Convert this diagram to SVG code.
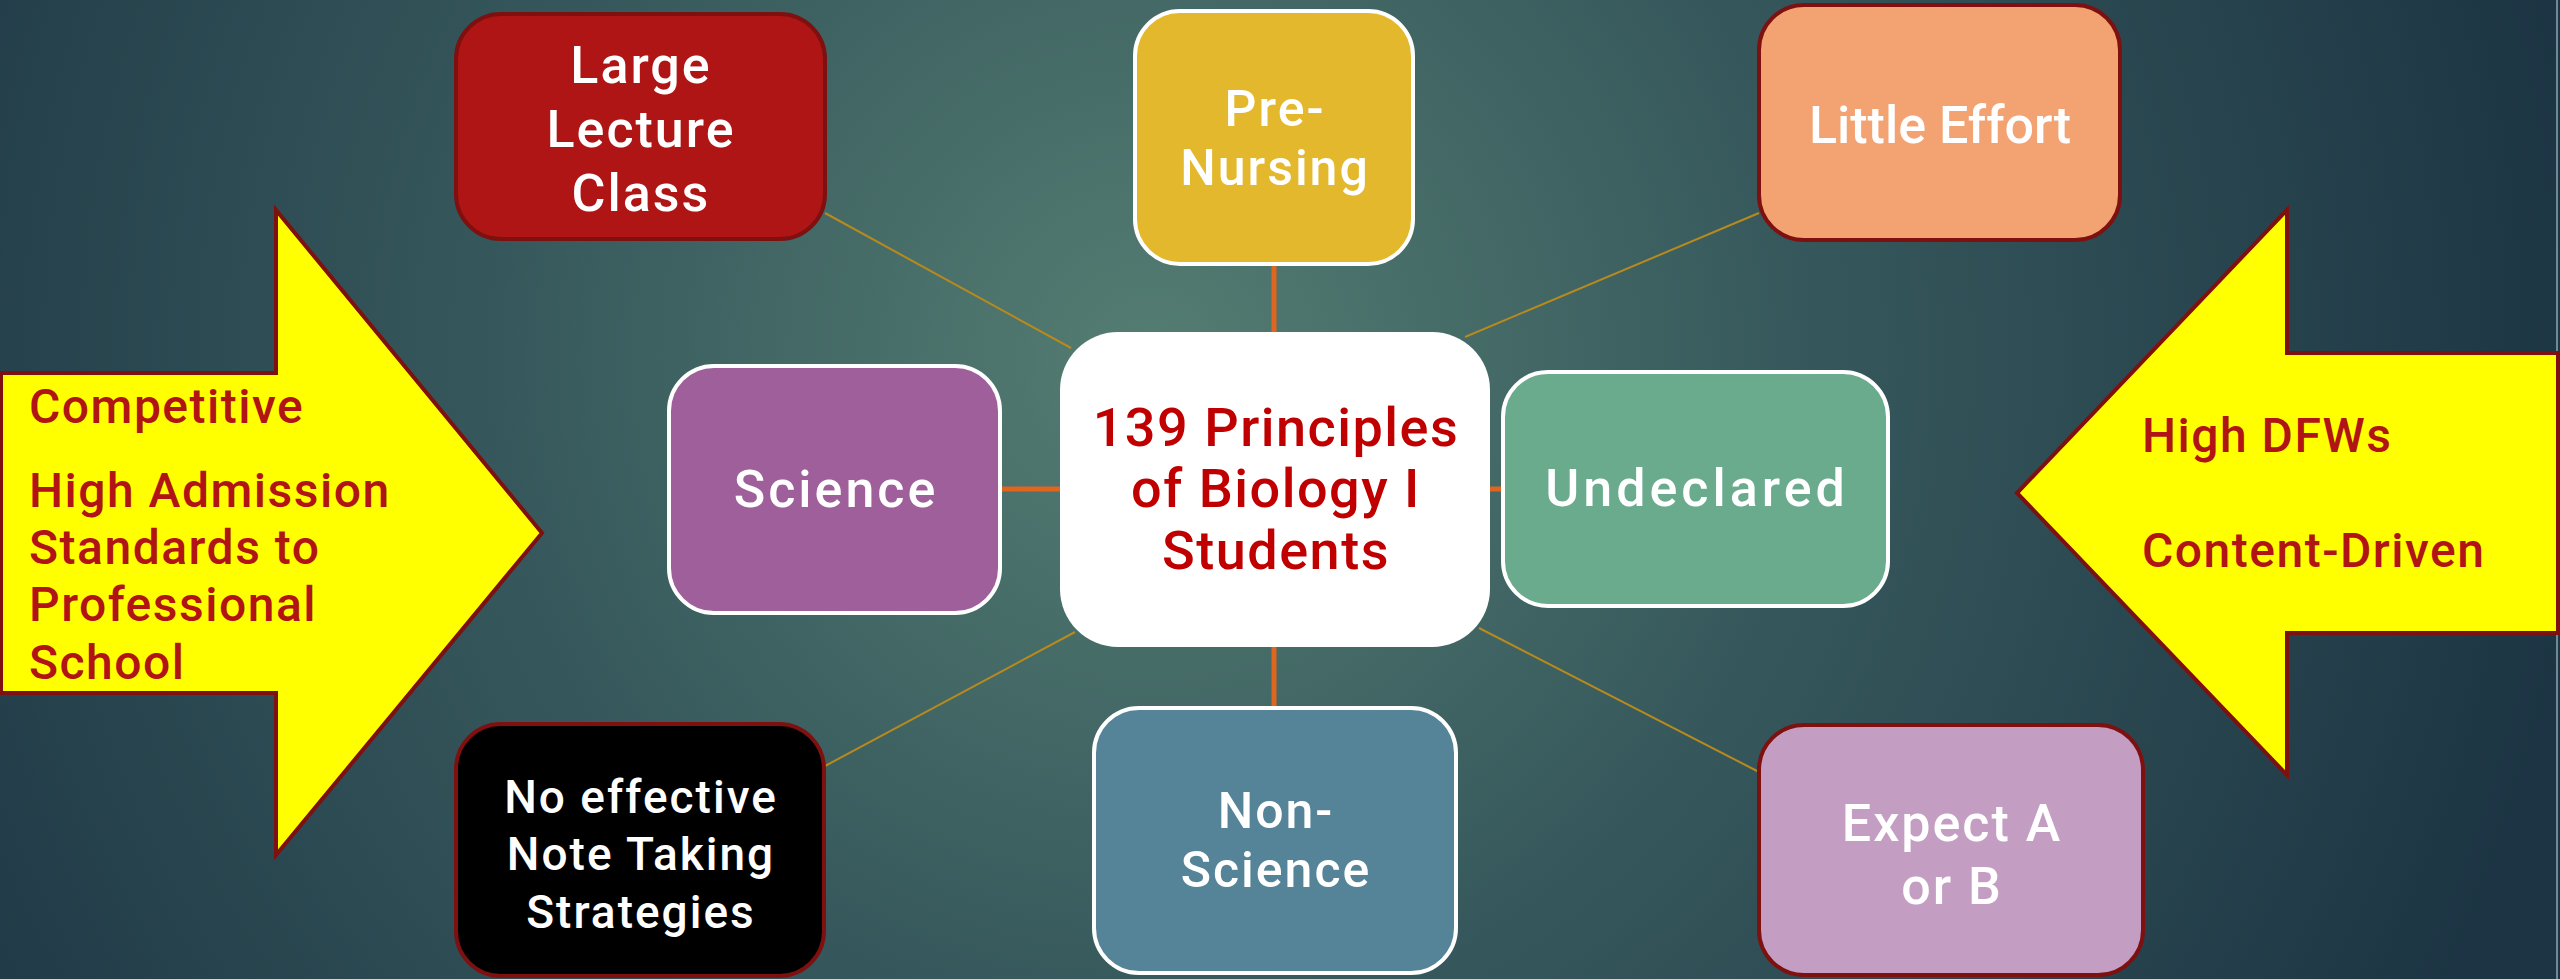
<svg xmlns="http://www.w3.org/2000/svg" width="2560" height="979" viewBox="0 0 2560 979">
  <defs>
    <radialGradient id="bg" cx="1150" cy="360" r="1450" gradientUnits="userSpaceOnUse">
      <stop offset="0" stop-color="#547D72"/>
      <stop offset="0.45" stop-color="#36585C"/>
      <stop offset="1" stop-color="#1C3443"/>
    </radialGradient>
  </defs>
  <style>
    .node-white { stroke: #FFFFFF; stroke-width: 4; }
    .node-maroon { stroke: #7E1010; stroke-width: 4; }
    .label { font-family: Roboto, "Liberation Sans", sans-serif; font-weight: 500; fill: #FFFFFF; text-anchor: middle; letter-spacing: 2px; }
    .hub { font-family: Roboto, "Liberation Sans", sans-serif; font-weight: 500; fill: #C00000; text-anchor: middle; font-size: 54px; letter-spacing: 1.5px; }
    .arrow { fill: #FFFF00; stroke: #7E1010; stroke-width: 4; stroke-linejoin: miter; }
    .arrow-text { font-family: Roboto, "Liberation Sans", sans-serif; font-weight: 500; fill: #B01414; font-size: 48px; letter-spacing: 1.5px; }
    .link-main { stroke: #E0651E; stroke-width: 5; fill: none; }
    .link-thin { stroke: #B88A1E; stroke-width: 2; fill: none; }
  </style>

  <!-- backdrop -->
  <rect x="0" y="0" width="2560" height="979" fill="url(#bg)"/>
  <line x1="2557" y1="0" x2="2557" y2="979" stroke="#6F8A95" stroke-width="2"/>

  <!-- side arrows -->
  <g id="arrow-left">
    <polygon class="arrow" points="1,373 276,373 276,210 542,533 276,855 276,693 1,693"/>
    <text class="arrow-text" x="29" y="423">Competitive</text>
    <text class="arrow-text" x="29" y="507">High Admission</text>
    <text class="arrow-text" x="29" y="564">Standards to</text>
    <text class="arrow-text" x="29" y="621">Professional</text>
    <text class="arrow-text" x="29" y="679">School</text>
  </g>
  <g id="arrow-right">
    <polygon class="arrow" points="2558,353 2287,353 2287,210 2017,493 2287,775 2287,633 2558,633"/>
    <text class="arrow-text" x="2142" y="452">High DFWs</text>
    <text class="arrow-text" x="2142" y="567">Content-Driven</text>
  </g>

  <!-- connectors -->
  <g id="connectors">
    <line class="link-thin" x1="825" y1="213" x2="1071" y2="348"/>
    <line class="link-thin" x1="1465" y1="337" x2="1759" y2="213"/>
    <line class="link-thin" x1="825" y1="766" x2="1075" y2="632"/>
    <line class="link-thin" x1="1479" y1="628" x2="1759" y2="772"/>
    <line class="link-main" x1="1274" y1="264" x2="1274" y2="334"/>
    <line class="link-main" x1="1000" y1="489" x2="1062" y2="489"/>
    <line class="link-main" x1="1488" y1="489" x2="1503" y2="489"/>
    <line class="link-main" x1="1274" y1="645" x2="1274" y2="708"/>
  </g>

  <!-- hub -->
  <g id="hub">
    <rect x="1060" y="332" width="430" height="315" rx="58" fill="#FFFFFF"/>
    <text class="hub" x="1276" y="446">139 Principles</text>
    <text class="hub" x="1276" y="507">of Biology I</text>
    <text class="hub" x="1276" y="569">Students</text>
  </g>

  <!-- surrounding nodes -->
  <g id="large-lecture">
    <rect class="node-maroon" x="456" y="14" width="369" height="225" rx="45" fill="#B01515"/>
    <text class="label" font-size="52" x="641" y="83">Large</text>
    <text class="label" font-size="52" x="641" y="147">Lecture</text>
    <text class="label" font-size="52" x="641" y="211">Class</text>
  </g>
  <g id="pre-nursing">
    <rect class="node-white" x="1135" y="11" width="278" height="253" rx="45" fill="#E3B82C"/>
    <text class="label" font-size="50" x="1275" y="126">Pre-</text>
    <text class="label" font-size="50" x="1275" y="185">Nursing</text>
  </g>
  <g id="little-effort">
    <rect class="node-maroon" x="1759" y="5" width="361" height="235" rx="45" fill="#F3A272"/>
    <text class="label" font-size="52" x="1940" y="143" style="letter-spacing:0">Little Effort</text>
  </g>
  <g id="science">
    <rect class="node-white" x="669" y="366" width="331" height="247" rx="45" fill="#9E5F9B"/>
    <text class="label" font-size="52" x="836" y="507" style="letter-spacing:3px">Science</text>
  </g>
  <g id="undeclared">
    <rect class="node-white" x="1503" y="372" width="385" height="234" rx="45" fill="#6AAB8E"/>
    <text class="label" font-size="52" x="1697" y="506" style="letter-spacing:4px">Undeclared</text>
  </g>
  <g id="note-taking">
    <rect class="node-maroon" x="456" y="724" width="368" height="252" rx="45" fill="#000000"/>
    <text class="label" font-size="46" x="641" y="813">No effective</text>
    <text class="label" font-size="46" x="641" y="870">Note Taking</text>
    <text class="label" font-size="46" x="641" y="928">Strategies</text>
  </g>
  <g id="non-science">
    <rect class="node-white" x="1094" y="708" width="362" height="265" rx="45" fill="#558499"/>
    <text class="label" font-size="50" x="1276" y="828">Non-</text>
    <text class="label" font-size="50" x="1276" y="887">Science</text>
  </g>
  <g id="expect-grade">
    <rect class="node-maroon" x="1759" y="725" width="384" height="250" rx="45" fill="#C49DC3"/>
    <text class="label" font-size="52" x="1952" y="841">Expect A</text>
    <text class="label" font-size="52" x="1952" y="904">or B</text>
  </g>
</svg>
